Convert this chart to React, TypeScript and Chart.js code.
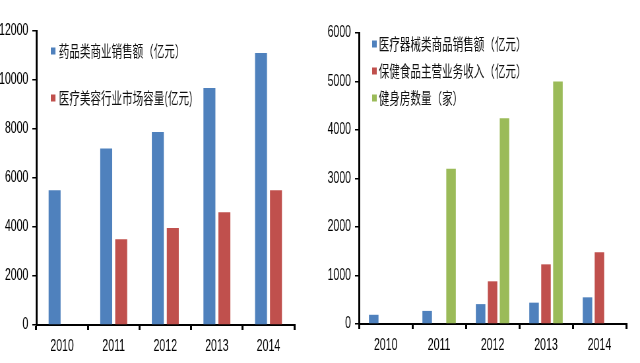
import React, { useEffect, useRef } from "react";
import { Chart, registerables } from "chart.js";

Chart.register(...registerables);

const years = ["2010", "2011", "2012", "2013", "2014"];

const leftLabels = ["药品类商业销售额（亿元）", "医疗美容行业市场容量(亿元)"];
const pharmaSales = [5500, 7200, 7880, 9670, 11100];
const beautyMarket = [null, 3500, 3960, 4600, 5500];

const rightLabels = ["医疗器械类商品销售额（亿元）", "保健食品主营业务收入（亿元）", "健身房数量（家）"];
const deviceSales = [190, 270, 410, 440, 550];
const healthFood = [null, null, 880, 1230, 1480];
const gyms = [null, 3200, 4240, 5000, null];

const BLUE = "#4F81BD";
const RED = "#C0504D";
const GREEN = "#9BBB59";

const NUM_FONT = "'Liberation Sans Narrow', 'Arial Narrow', 'Liberation Sans', sans-serif";
const CJK_FONT = "'Noto Sans CJK SC', sans-serif";

const CW = 485; // canvas width, displayed squeezed at 320px
const CH = 363;

const legendPlugin = {
  id: "inlineLegend",
  afterDraw(chart: any, _args: any, opts: any) {
    const ctx = chart.ctx;
    ctx.save();
    ctx.font = `${opts.fontSize}px ${CJK_FONT}`;
    ctx.textBaseline = "middle";
    chart.data.datasets.forEach((ds: any, i: number) => {
      const y = opts.ys[i];
      ctx.fillStyle = ds.backgroundColor;
      ctx.fillRect(opts.boxX, y - 3.5, 7, 7);
      ctx.fillStyle = "#111";
      ctx.fillText(ds.label, opts.textX, y);
    });
    ctx.restore();
  },
};

function makeScales(max: number, step: number, yWidth: number, xHeight: number) {
  return {
    x: {
      offset: true,
      grid: {
        offset: true,
        drawOnChartArea: false,
        drawTicks: true,
        tickLength: 5,
        color: "#000",
        lineWidth: 3,
      },
      border: { display: true, color: "#000", width: 2 },
      ticks: {
        color: "#000",
        padding: 7,
        font: { family: NUM_FONT, size: 16 },
        maxRotation: 0,
      },
      afterFit: (s: any) => {
        s.height = xHeight;
      },
    },
    y: {
      min: 0,
      max,
      grid: {
        drawOnChartArea: false,
        drawTicks: true,
        tickLength: 6,
        color: "#000",
        lineWidth: 1.5,
      },
      border: { display: true, color: "#000", width: 3 },
      ticks: {
        stepSize: step,
        color: "#000",
        padding: 6,
        font: { family: NUM_FONT, size: 16 },
        callback: (v: any) => String(v),
      },
      afterFit: (s: any) => {
        s.width = yWidth;
      },
    },
  };
}

function LeftChart() {
  const ref = useRef<HTMLCanvasElement>(null);
  useEffect(() => {
    const chart = new Chart(ref.current as HTMLCanvasElement, {
      type: "bar",
      data: {
        labels: years,
        datasets: [
          { label: leftLabels[0], data: pharmaSales, backgroundColor: BLUE, barPercentage: 0.8, categoryPercentage: 0.58 },
          { label: leftLabels[1], data: beautyMarket as any, backgroundColor: RED, barPercentage: 0.8, categoryPercentage: 0.58 },
        ],
      },
      options: {
        responsive: false,
        animation: false,
        layout: { padding: { top: 31, right: 39, left: 0, bottom: 0 } },
        plugins: {
          legend: { display: false },
          tooltip: { enabled: false },
          inlineLegend: { ys: [51, 98], boxX: 77, textX: 89, fontSize: 16 },
        } as any,
        scales: makeScales(12000, 2000, 55, 38) as any,
      },
      plugins: [legendPlugin as any],
    });
    return () => chart.destroy();
  }, []);
  return <canvas ref={ref} width={CW} height={CH} style={{ width: "320px", height: CH + "px", display: "block" }} />;
}

function RightChart() {
  const ref = useRef<HTMLCanvasElement>(null);
  useEffect(() => {
    const chart = new Chart(ref.current as HTMLCanvasElement, {
      type: "bar",
      data: {
        labels: years,
        datasets: [
          { label: rightLabels[0], data: deviceSales, backgroundColor: BLUE, barPercentage: 0.8, categoryPercentage: 0.67 },
          { label: rightLabels[1], data: healthFood as any, backgroundColor: RED, barPercentage: 0.8, categoryPercentage: 0.67 },
          { label: rightLabels[2], data: gyms as any, backgroundColor: GREEN, barPercentage: 0.8, categoryPercentage: 0.67 },
        ],
      },
      options: {
        responsive: false,
        animation: false,
        layout: { padding: { top: 33, right: 21, left: 0, bottom: 0 } },
        plugins: {
          legend: { display: false },
          tooltip: { enabled: false },
          inlineLegend: { ys: [44, 71, 98], boxX: 79, textX: 89, fontSize: 16 },
        } as any,
        scales: makeScales(6000, 1000, 59, 39) as any,
      },
      plugins: [legendPlugin as any],
    });
    return () => chart.destroy();
  }, []);
  return <canvas ref={ref} width={CW} height={CH} style={{ width: "320px", height: CH + "px", display: "block" }} />;
}

export default function App() {
  return (
    <div style={{ position: "fixed", left: 0, top: 0, width: 640, height: 363, display: "flex", background: "#fff" }}>
      <LeftChart />
      <RightChart />
    </div>
  );
}
